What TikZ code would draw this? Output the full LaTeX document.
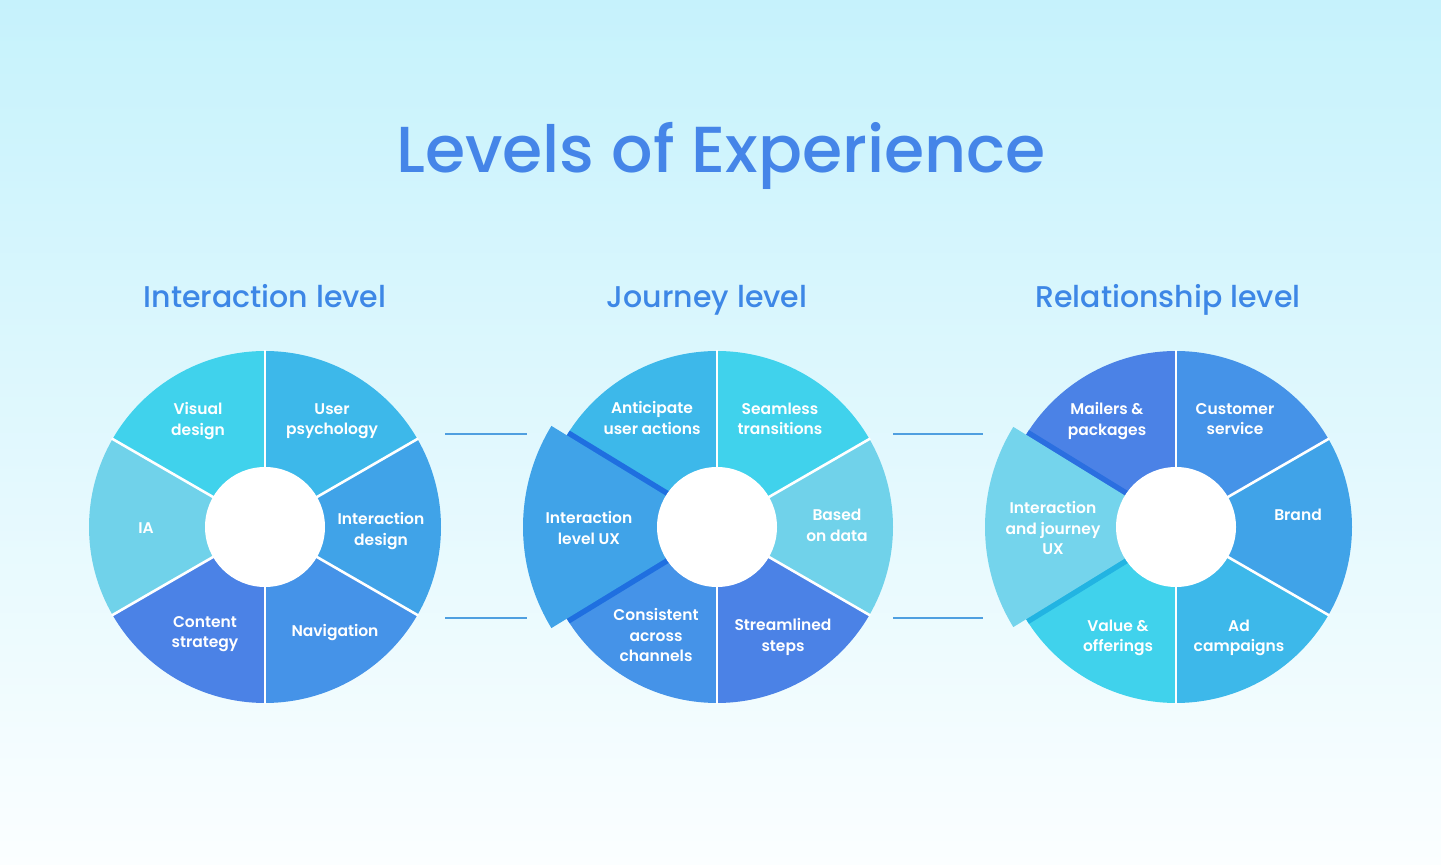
\documentclass[tikz,border=0pt]{standalone}
\usepackage{fontspec}
\setmainfont{Poppins}[BoldFont={Poppins SemiBold}]
\newfontfamily\titlefont{Poppins Medium}
\usetikzlibrary{calc}
\definecolor{bgtop}{HTML}{C6F2FC}
\definecolor{bgmid}{HTML}{E2F7FD}
\definecolor{bgbot}{HTML}{FBFEFF}
\definecolor{titleblue}{HTML}{4585E8}
\definecolor{subblue}{HTML}{3D87E6}
\definecolor{cA}{HTML}{40D2EC}
\definecolor{cB}{HTML}{3DB8EA}
\definecolor{cC}{HTML}{40A3E8}
\definecolor{cD}{HTML}{4593E8}
\definecolor{cE}{HTML}{4B82E6}
\definecolor{cF}{HTML}{70D2EA}
\definecolor{cG}{HTML}{74D4EC}
\definecolor{shadeblue}{HTML}{1F6FE0}
\definecolor{shadedeep}{HTML}{2B6FE0}
\definecolor{shadecyan}{HTML}{22B4E2}
\definecolor{linkblue}{HTML}{4F9FE0}
\newcommand\seg[5]{\fill[#5] (#1) -- ++(#2:#4) arc[start angle=#2, end angle=#3, radius=#4] -- cycle;}
\newcommand\sep[2]{\draw[sepline] (#1) -- ++(#2:177);}
\tikzset{
  lbl/.style={text=white, font=\bfseries\fontsize{15.5}{20.5}\selectfont, align=center, inner sep=0pt},
  subttl/.style={text=subblue, font=\titlefont\fontsize{30}{34}\selectfont, inner sep=0pt, anchor=base},
  sepline/.style={white, line width=2.6pt},
  link/.style={linkblue, line width=1.1pt},
  hole/.style={fill=white}
}
\begin{document}
\begin{tikzpicture}[x=1pt,y=1pt]
\useasboundingbox (0,0) rectangle (1441,865);
\shade[top color=bgtop, middle color=bgmid, bottom color=bgbot] (0,0) rectangle (1441,865);

\node[text=titleblue, font=\titlefont\fontsize{65}{72}\selectfont, inner sep=0pt, anchor=base] (title) at (721,692) {Levels of Experience};

\node[subttl] (s1) at (265,557) {Interaction level};
\node[subttl] (s2) at (707,557) {Journey level};
\node[subttl] (s3) at (1168,557) {Relationship level};

\coordinate (L) at (265,338);
\coordinate (M) at (717,338);
\coordinate (R) at (1176,338);

% connectors
\coordinate (a1) at (445,431); \coordinate (a2) at (527,431);
\coordinate (b1) at (445,247); \coordinate (b2) at (527,247);
\coordinate (c1) at (893,431); \coordinate (c2) at (983,431);
\coordinate (d1) at (893,247); \coordinate (d2) at (983,247);
\draw[link] (a1) -- (a2);
\draw[link] (b1) -- (b2);
\draw[link] (c1) -- (c2);
\draw[link] (d1) -- (d2);

% left donut
\seg{L}{90}{150}{176}{cA}
\seg{L}{30}{90}{176}{cB}
\seg{L}{-30}{30}{176}{cC}
\seg{L}{-90}{-30}{176}{cD}
\seg{L}{210}{270}{176}{cE}
\seg{L}{150}{210}{176}{cF}
\foreach \a in {90,30,-30,-90,210,150} {\sep{L}{\a}}
\fill[hole] (L) circle[radius=60];

% middle donut
\seg{M}{90}{150}{176}{cB}
\seg{M}{30}{90}{176}{cA}
\seg{M}{-30}{30}{176}{cF}
\seg{M}{-90}{-30}{176}{cE}
\seg{M}{210}{270}{176}{cD}
\foreach \a in {90,30,-30,-90} {\sep{M}{\a}}
\draw[shadeblue, line width=11pt] (M) ++(148.6:55) -- ++(148.6:121);
\draw[shadeblue, line width=11pt] (M) ++(211.4:55) -- ++(211.4:121);
\seg{M}{148.6}{211.4}{194}{cC}
\fill[hole] (M) circle[radius=60];

% right donut
\seg{R}{90}{150}{176}{cE}
\seg{R}{30}{90}{176}{cD}
\seg{R}{-30}{30}{176}{cC}
\seg{R}{-90}{-30}{176}{cB}
\seg{R}{210}{270}{176}{cA}
\foreach \a in {90,30,-30,-90} {\sep{R}{\a}}
\draw[shadedeep, line width=11pt] (R) ++(148.4:55) -- ++(148.4:121);
\draw[shadecyan, line width=11pt] (R) ++(211.6:55) -- ++(211.6:121);
\seg{R}{148.4}{211.6}{191}{cG}
\fill[hole] (R) circle[radius=60];

% labels left
\node[lbl] (l1) at (198,444) {Visual\\design};
\node[lbl] (l2) at (332,444) {User\\psychology};
\node[lbl] (l3) at (381,334) {Interaction\\design};
\node[lbl] (l4) at (335,232) {Navigation};
\node[lbl] (l5) at (205,231) {Content\\strategy};
\node[lbl] (l6) at (146,337) {IA};
% labels middle
\node[lbl] (m1) at (652,447) {Anticipate\\user actions};
\node[lbl] (m2) at (780,446) {Seamless\\transitions};
\node[lbl] (m3) at (837,339.5) {Based\\on data};
\node[lbl] (m4) at (783,228) {Streamlined\\steps};
\node[lbl] (m5) at (656,230) {Consistent\\across\\channels};
\node[lbl] (m6) at (589,337) {Interaction\\level UX};
% labels right
\node[lbl] (r1) at (1107,444) {Mailers \&\\packages};
\node[lbl] (r2) at (1235,446) {Customer\\service};
\node[lbl] (r3) at (1298,350) {Brand};
\node[lbl] (r4) at (1239,227) {Ad\\campaigns};
\node[lbl] (r5) at (1118,227) {Value \&\\offerings};
\node[lbl] (r6) at (1053,337) {Interaction\\and journey\\UX};
\end{tikzpicture}
\end{document}
